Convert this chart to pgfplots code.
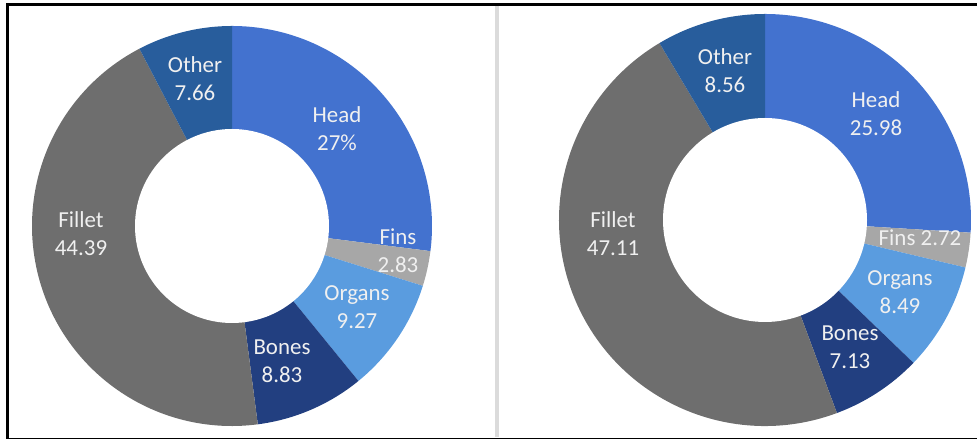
\documentclass[border=0pt]{standalone}
\usepackage{pgfplots}
\pgfplotsset{compat=1.18}
\usepackage{pgfplotstable}
\usepackage{fontspec}
\setmainfont{Carlito}

\definecolor{cHead}{HTML}{4372CF}
\definecolor{cFins}{HTML}{A7A7A7}
\definecolor{cOrgans}{HTML}{5A9CDF}
\definecolor{cBones}{HTML}{223F80}
\definecolor{cFillet}{HTML}{6E6E6E}
\definecolor{cOther}{HTML}{285D9C}

\tikzset{lbl/.style={align=center, text=white!94!black, inner sep=0pt,
    font=\fontsize{23}{28}\selectfont}}

\pgfplotstableread{
part   value color
Head   27.00 cHead
Fins   2.83  cFins
Organs 9.27  cOrgans
Bones  8.83  cBones
Fillet 44.39 cFillet
Other  7.66  cOther
}\leftdata

\pgfplotstableread{
part   value color
Head   25.98 cHead
Fins   2.72  cFins
Organs 8.49  cOrgans
Bones  7.13  cBones
Fillet 47.11 cFillet
Other  8.56  cOther
}\rightdata

% #1 table, #2 cx, #3 cy, #4 outer radius, #5 inner radius
\newcommand\donut[5]{%
  \pgfplotstablegetrowsof{#1}\pgfmathtruncatemacro\nrows{\pgfplotsretval-1}%
  \gdef\tot{0}%
  \foreach \i in {0,...,\nrows}{%
    \pgfplotstablegetelem{\i}{value}\of#1\let\val\pgfplotsretval
    \pgfmathsetmacro\newtot{\tot+\val}\xdef\tot{\newtot}%
  }%
  \pgfmathsetmacro\fac{360/\tot}\global\let\fac\fac
  \gdef\cum{0}%
  \foreach \i in {0,...,\nrows}{%
    \pgfplotstablegetelem{\i}{value}\of#1\let\val\pgfplotsretval
    \pgfplotstablegetelem{\i}{color}\of#1\let\col\pgfplotsretval
    \pgfmathsetmacro\sa{90-\fac*\cum}%
    \pgfmathsetmacro\ea{90-\fac*(\cum+\val)}%
    \fill[\col] (axis cs:#2,#3) -- ([shift={(\sa:#4bp)}]axis cs:#2,#3)
      arc[start angle=\sa, end angle=\ea, radius=#4bp] -- cycle;
    \pgfmathsetmacro\newcum{\cum+\val}\xdef\cum{\newcum}%
  }%
  \fill[white] (axis cs:#2,#3) circle[radius=#5bp];
}

\begin{document}
\begin{tikzpicture}
\begin{axis}[
  x=1bp, y=1bp,
  xmin=0, xmax=977, ymin=0, ymax=439,
  hide axis, clip=false,
]
\pgfplotsextra{
  \coordinate (bl) at (axis cs:0,0);
  \coordinate (tr) at (axis cs:977,439);
  \donut{\leftdata}{232}{213}{200}{97}
  \donut{\rightdata}{765}{219}{206}{102}
  % frame and divider
  \draw[black, line width=2.7bp] (axis cs:6,434.3) -- (axis cs:977,434.3);
  \draw[black, line width=2.6bp] (axis cs:7.3,435.6) -- (axis cs:7.3,0.6);
  \draw[black, line width=1.3bp] (axis cs:6,0.8) -- (axis cs:977,0.8);
  \draw[black!14, line width=4bp] (axis cs:496.5,433) -- (axis cs:496.5,1.5);
}
% left labels
\node[lbl] at (axis cs:195,360) {Other\\7.66};
\node[lbl] at (axis cs:337,310) {Head\\27\%};
\node[lbl] at (axis cs:398,188) {Fins\\2.83};
\node[lbl] at (axis cs:357,132) {Organs\\9.27};
\node[lbl] at (axis cs:282,78) {Bones\\8.83};
\node[lbl] at (axis cs:81,205) {Fillet\\44.39};
% right labels
\node[lbl] at (axis cs:725,368) {Other\\8.56};
\node[lbl] at (axis cs:876,325) {Head\\25.98};
\node[lbl] at (axis cs:920,201) {Fins 2.72};
\node[lbl] at (axis cs:900,147) {Organs\\8.49};
\node[lbl] at (axis cs:850,92) {Bones\\7.13};
\node[lbl] at (axis cs:613,205) {Fillet\\47.11};
\end{axis}
\pgfresetboundingbox
\path[use as bounding box] (bl) rectangle (tr);
\end{tikzpicture}
\end{document}
